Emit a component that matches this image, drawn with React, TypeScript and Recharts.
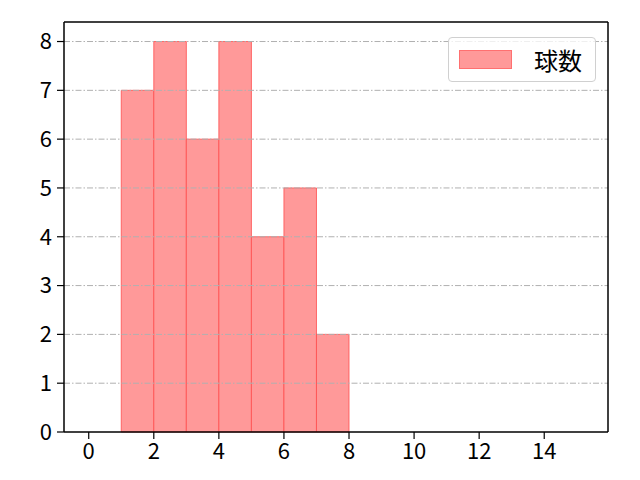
import React from "react";
import {
  ComposedChart,
  XAxis,
  YAxis,
  ReferenceArea,
  ReferenceLine,
} from "recharts";

// histogram bins (left edge) and counts
const binStarts = [1, 2, 3, 4, 5, 6, 7];
const counts = [7, 8, 6, 8, 4, 5, 2];
const binWidth = 1;
const seriesName = "球数";

const xTicks = [0, 2, 4, 6, 8, 10, 12, 14];
const yTicks = [0, 1, 2, 3, 4, 5, 6, 7, 8];
const xDomain = [-0.76, 15.96];
const yDomain = [0, 8.4];

const data = binStarts.map((start, i) => ({
  x: start + binWidth / 2,
  count: counts[i],
}));

const FONT = "'Noto Sans CJK JP', 'Noto Sans', sans-serif";
const tickStyle = { fontSize: 22, fill: "#000", fontFamily: FONT };

function LegendBox() {
  return (
    <div
      style={{
        position: "absolute",
        top: 37,
        left: 448,
        width: 148,
        height: 45,
        border: "1px solid #d0d0d0",
        borderRadius: 4,
        background: "rgba(255,255,255,0.8)",
        display: "flex",
        alignItems: "center",
        boxSizing: "border-box",
        fontFamily: FONT,
      }}
    >
      <span
        style={{
          display: "inline-block",
          width: 53,
          height: 19,
          marginLeft: 10,
          background: "#ff9999",
          border: "1px solid #ff7070",
          boxSizing: "border-box",
        }}
      />
      <span style={{ marginLeft: 22, fontSize: 24, color: "#000", lineHeight: 1 }}>
        {seriesName}
      </span>
    </div>
  );
}

export default function App() {
  return (
    <div style={{ position: "absolute", top: 0, left: 0, width: 640, height: 480, background: "#fff" }}>
      <ComposedChart
        width={640}
        height={480}
        data={data}
        margin={{ top: 22, right: 32, left: 0, bottom: 0 }}
      >
        <XAxis
          dataKey="x"
          type="number"
          domain={xDomain}
          ticks={xTicks}
          allowDataOverflow
          height={48}
          tickSize={7}
          tickMargin={4}
          tick={tickStyle}
          axisLine={{ stroke: "#000", strokeWidth: 1.5 }}
          tickLine={{ stroke: "#000", strokeWidth: 1.2 }}
        />
        <YAxis
          type="number"
          domain={yDomain}
          ticks={yTicks}
          allowDataOverflow
          width={64}
          tickSize={7}
          tickMargin={5}
          tick={tickStyle}
          axisLine={{ stroke: "#000", strokeWidth: 1.5 }}
          tickLine={{ stroke: "#000", strokeWidth: 1.2 }}
        />
        {binStarts.map((start, i) => (
          <ReferenceArea
            key={start}
            x1={start}
            x2={start + binWidth}
            y1={0}
            y2={counts[i]}
            fill="#ff9999"
            fillOpacity={1}
            stroke="#ff4d4d"
            strokeOpacity={0.8}
            strokeWidth={1}
          />
        ))}
        {yTicks
          .filter((v) => v > 0)
          .map((v) => (
            <ReferenceLine
              key={v}
              y={v}
              stroke="#b0b0b0"
              strokeWidth={1}
              strokeDasharray="6 2 1.5 2"
            />
          ))}
        <ReferenceLine y={yDomain[1]} stroke="#000" strokeWidth={1.5} />
        <ReferenceLine x={xDomain[1]} stroke="#000" strokeWidth={1.5} />
      </ComposedChart>
      <LegendBox />
    </div>
  );
}
